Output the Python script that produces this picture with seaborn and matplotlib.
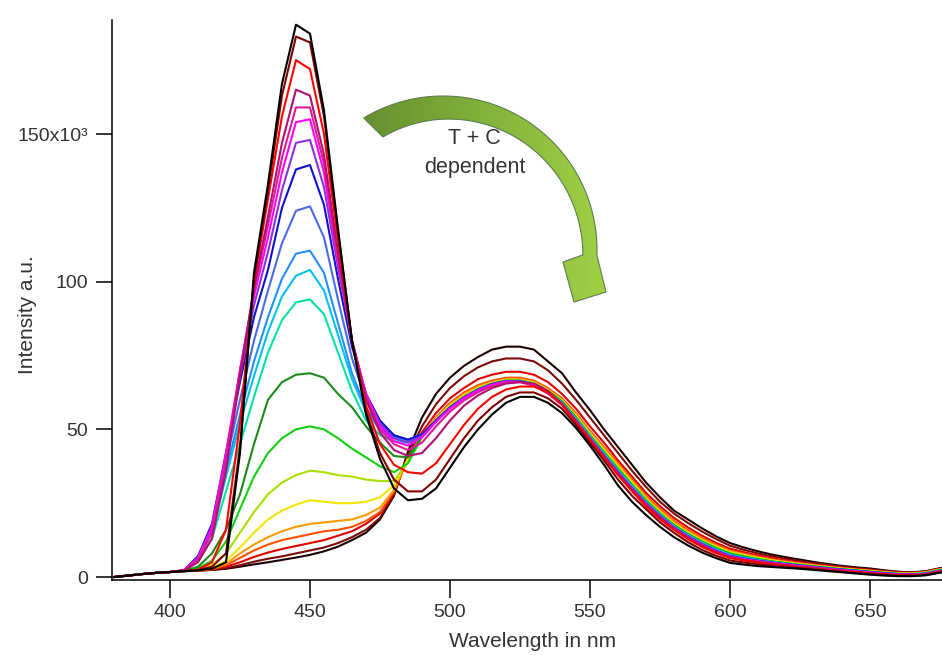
import numpy as np
import pandas as pd
import matplotlib
matplotlib.use("Agg")
import matplotlib.pyplot as plt
import seaborn as sns
from matplotlib.patches import Polygon
from matplotlib.colors import LinearSegmentedColormap

# Emission spectra, intensity in units of 10^3 counts, sampled every 5 nm (380-680 nm)
wavelength_nm = list(range(380, 685, 5))

black_low = [0.0, 0.5, 1.0, 1.4, 1.7,
             2.0, 2.2, 2.4, 2.8, 3.5, 4.3, 5.0, 5.8, 6.6, 7.5, 8.7, 10.3, 12.5, 15.0, 19.5, 27.5,
             42.5, 54.0, 62.0, 67.5, 71.5, 74.5, 77.0, 78.0, 78.0, 77.0, 73.0, 69.0, 62.5, 56.5, 50.0,
             44.0, 38.0, 32.0, 27.0, 22.5, 19.5, 16.5, 13.8,
             11.5, 10.0, 8.7, 7.6, 6.7, 5.9, 5.1, 4.4, 3.8, 3.3, 2.9, 2.3, 1.8, 1.6, 2.0, 3.0, 3.5]
maroon_low = [0.0, 0.5, 1.0, 1.4, 1.7,
              2.0, 2.2, 2.5, 3.0, 4.0, 5.2, 6.2, 7.0, 8.0, 9.0, 10.0, 11.5, 13.5, 16.0, 20.0, 28.0,
              41.5, 51.0, 58.5, 64.0, 68.0, 71.0, 73.0, 74.0, 74.0, 73.0, 70.0, 65.5, 60.0, 54.0, 48.0,
              42.0, 36.0, 30.5, 25.5, 21.5, 18.3, 15.4, 12.9,
              10.6, 9.2, 8.0, 7.0, 6.2, 5.4, 4.7, 4.1, 3.5, 3.0, 2.6, 2.1, 1.7, 1.5, 1.9, 2.9, 3.4]
red_low = [0.0, 0.5, 1.0, 1.4, 1.7,
           2.0, 2.2, 2.6, 3.5, 5.0, 6.8, 8.3, 9.5, 10.5, 11.5, 12.5, 14.0, 15.5, 18.0, 21.5, 28.5,
           40.5, 49.0, 55.5, 60.5, 64.0, 67.0, 68.5, 69.5, 69.5, 68.5, 66.0, 62.0, 57.0, 51.0, 45.5,
           39.5, 34.0, 28.5, 24.0, 20.0, 16.8, 14.0, 11.6,
           9.6, 8.4, 7.3, 6.4, 5.6, 4.9, 4.3, 3.7, 3.2, 2.7, 2.3, 1.9, 1.5, 1.4, 1.8, 2.8, 3.3]
orangered_low = [0.0, 0.5, 1.0, 1.4, 1.7,
                 2.0, 2.3, 2.7, 4.0, 6.5, 9.0, 11.0, 12.5, 13.5, 14.5, 15.5, 16.0, 17.0, 19.0, 22.0, 29.0,
                 40.0, 48.0, 54.0, 59.0, 62.5, 65.0, 66.5, 67.5, 67.5, 66.5, 64.0, 60.5, 55.5, 49.5, 44.0,
                 38.5, 33.0, 27.5, 23.0, 19.0, 15.9, 13.2, 10.9,
                 9.0, 7.9, 6.9, 6.0, 5.3, 4.7, 4.1, 3.5, 3.0, 2.6, 2.2, 1.8, 1.4, 1.3, 1.7, 2.7, 3.2]
orange = [0.0, 0.5, 1.0, 1.4, 1.7,
          2.0, 2.3, 2.8, 4.5, 8.0, 11.0, 13.5, 15.5, 17.0, 18.0, 18.5, 19.0, 19.5, 21.0, 23.5, 29.5,
          40.0, 48.0, 53.5, 58.5, 62.0, 64.5, 66.0, 67.0, 67.0, 66.0, 63.5, 60.0, 55.0, 49.0, 43.5,
          38.0, 32.5, 27.0, 22.5, 18.5, 15.4, 12.8, 10.6,
          8.7, 7.6, 6.6, 5.8, 5.1, 4.5, 3.9, 3.4, 2.9, 2.5, 2.1, 1.7, 1.3, 1.2, 1.6, 2.6, 3.1]
yellow = [0.0, 0.5, 1.0, 1.4, 1.7,
          2.0, 2.4, 3.0, 5.5, 10.0, 15.0, 19.5, 22.5, 24.5, 26.0, 25.5, 25.0, 25.0, 25.5, 27.0, 31.0,
          40.0, 48.0, 53.5, 58.0, 61.5, 64.0, 65.8, 66.8, 66.8, 65.8, 63.3, 59.8, 54.5, 48.5, 43.0,
          37.5, 32.0, 26.5, 22.0, 18.0, 15.0, 12.4, 10.2,
          8.4, 7.4, 6.4, 5.6, 4.9, 4.3, 3.8, 3.3, 2.8, 2.4, 2.0, 1.6, 1.2, 1.1, 1.5, 2.5, 3.0]
yellowgreen = [0.0, 0.5, 1.0, 1.4, 1.7,
               2.0, 2.5, 4.0, 8.0, 15.0, 22.0, 28.0, 32.0, 34.5, 36.0, 35.5, 34.5, 34.0, 33.0, 32.5, 32.5,
               39.0, 47.5, 53.0, 57.5, 61.0, 63.8, 65.6, 66.6, 66.6, 65.6, 63.2, 59.6, 54.2, 48.2, 42.6,
               37.0, 31.6, 26.2, 21.7, 17.8, 14.8, 12.2, 10.0,
               8.2, 7.2, 6.2, 5.4, 4.8, 4.2, 3.7, 3.2, 2.7, 2.3, 1.9, 1.5, 1.1, 1.0, 1.4, 2.4, 2.9]
green = [0.0, 0.5, 1.0, 1.4, 1.7,
         2.0, 3.0, 5.5, 12.0, 23.0, 34.0, 42.0, 47.0, 50.0, 51.0, 50.0, 47.0, 43.5, 40.5, 37.5, 35.5,
         38.5, 47.5, 53.0, 57.5, 61.0, 63.6, 65.5, 66.5, 66.5, 65.5, 63.0, 59.5, 54.0, 48.0, 42.3,
         36.7, 31.3, 26.0, 21.5, 17.6, 14.6, 12.0, 9.8,
         8.0, 7.0, 6.1, 5.3, 4.7, 4.1, 3.6, 3.1, 2.6, 2.2, 1.8, 1.4, 1.1, 1.0, 1.4, 2.4, 2.9]
darkgreen = [0.0, 0.5, 1.0, 1.4, 1.7,
             2.1, 3.5, 8.0, 16.0, 28.0, 45.0, 60.0, 66.0, 68.5, 69.0, 67.5, 62.0, 57.5, 51.0, 45.5, 41.0,
             40.5, 47.5, 53.0, 57.5, 61.0, 63.5, 65.4, 66.4, 66.4, 65.4, 62.8, 59.3, 53.8, 47.8, 42.0,
             36.4, 31.0, 25.7, 21.3, 17.4, 14.4, 11.8, 9.6,
             7.8, 6.8, 5.9, 5.2, 4.6, 4.0, 3.5, 3.0, 2.6, 2.2, 1.8, 1.4, 1.0, 0.9, 1.3, 2.3, 2.8]
turquoise = [0.0, 0.5, 1.0, 1.4, 1.7,
             2.2, 5.5, 13.0, 29.0, 45.0, 61.0, 76.0, 87.0, 93.0, 94.0, 89.0, 76.0, 63.0, 53.0, 48.0, 46.0,
             45.5, 47.8, 52.8, 57.3, 60.8, 63.4, 65.3, 66.3, 66.3, 65.3, 62.7, 59.1, 53.6, 47.6, 41.8,
             36.2, 30.8, 25.5, 21.1, 17.2, 14.2, 11.6, 9.4,
             7.6, 6.6, 5.8, 5.1, 4.5, 3.9, 3.4, 2.9, 2.5, 2.1, 1.7, 1.3, 1.0, 0.9, 1.3, 2.3, 2.8]
deepskyblue = [0.0, 0.5, 1.0, 1.4, 1.7,
               2.2, 6.0, 15.0, 34.0, 52.0, 68.0, 83.0, 95.0, 102.0, 104.0, 97.0, 82.0, 67.0, 56.0, 50.0, 47.0,
               46.0, 48.0, 52.8, 57.3, 60.8, 63.4, 65.3, 66.3, 66.3, 65.3, 62.6, 59.0, 53.4, 47.4, 41.6,
               36.0, 30.6, 25.3, 21.0, 17.1, 14.1, 11.5, 9.3,
               7.5, 6.5, 5.7, 5.0, 4.4, 3.9, 3.4, 2.9, 2.5, 2.1, 1.7, 1.3, 1.0, 0.9, 1.2, 2.2, 2.7]
dodgerblue = [0.0, 0.5, 1.0, 1.4, 1.7,
              2.2, 6.5, 16.0, 36.0, 55.0, 73.0, 88.0, 101.0, 109.5, 110.5, 103.0, 86.0, 69.0, 57.0, 51.0, 47.5,
              46.5, 48.2, 53.0, 57.4, 60.8, 63.4, 65.3, 66.3, 66.3, 65.2, 62.5, 58.8, 53.2, 47.2, 41.4,
              35.8, 30.4, 25.1, 20.8, 16.9, 13.9, 11.3, 9.1,
              7.3, 6.4, 5.6, 4.9, 4.3, 3.8, 3.3, 2.8, 2.4, 2.0, 1.6, 1.2, 0.9, 0.8, 1.2, 2.2, 2.7]
royalblue = [0.0, 0.5, 1.0, 1.4, 1.7,
             2.3, 7.0, 17.0, 39.0, 60.0, 80.0, 97.0, 113.0, 124.0, 125.5, 115.0, 94.0, 74.0, 60.0, 52.0, 48.0,
             46.5, 48.3, 53.0, 57.4, 60.8, 63.4, 65.3, 66.3, 66.3, 65.2, 62.5, 58.7, 53.0, 47.0, 41.2,
             35.6, 30.2, 25.0, 20.7, 16.8, 13.8, 11.2, 9.0,
             7.2, 6.3, 5.5, 4.9, 4.3, 3.8, 3.3, 2.8, 2.4, 2.0, 1.6, 1.2, 0.9, 0.8, 1.1, 2.1, 2.6]
blue = [0.0, 0.5, 1.0, 1.4, 1.7,
        2.3, 7.0, 18.0, 42.0, 66.0, 88.0, 104.0, 125.0, 138.0, 139.5, 126.0, 101.0, 78.0, 62.0, 53.0, 48.0,
        46.5, 48.3, 53.0, 57.4, 60.8, 63.4, 65.3, 66.3, 66.3, 65.1, 62.4, 58.6, 52.9, 46.9, 41.0,
        35.4, 30.0, 24.8, 20.5, 16.7, 13.7, 11.1, 8.9,
        7.1, 6.2, 5.5, 4.9, 4.4, 3.9, 3.4, 2.9, 2.5, 2.1, 1.7, 1.3, 1.0, 0.9, 1.1, 2.1, 2.6]
purple = [0.0, 0.5, 1.0, 1.4, 1.7,
          2.3, 6.5, 17.0, 41.0, 68.0, 92.0, 110.0, 131.0, 147.0, 148.0, 132.0, 105.0, 80.0, 62.0, 52.0, 47.0,
          45.5, 47.8, 52.7, 57.2, 60.7, 63.3, 65.2, 66.2, 66.2, 65.0, 62.3, 58.5, 52.8, 46.8, 40.9,
          35.3, 29.9, 24.7, 20.4, 16.6, 13.6, 11.0, 8.8,
          7.0, 6.1, 5.4, 4.8, 4.3, 3.8, 3.3, 2.8, 2.4, 2.0, 1.6, 1.2, 0.9, 0.8, 1.1, 2.1, 2.6]
magenta = [0.0, 0.5, 1.0, 1.4, 1.7,
           2.3, 6.5, 17.0, 42.0, 70.0, 95.0, 115.0, 137.0, 154.0, 155.0, 137.0, 107.0, 80.0, 62.0, 51.0, 46.0,
           44.5, 47.3, 52.5, 57.0, 60.6, 63.2, 65.1, 66.1, 66.1, 64.9, 62.2, 58.4, 52.7, 46.7, 40.8,
           35.2, 29.8, 24.6, 20.3, 16.5, 13.5, 10.9, 8.7,
           6.9, 6.0, 5.3, 4.7, 4.2, 3.7, 3.2, 2.7, 2.3, 1.9, 1.5, 1.1, 0.8, 0.7, 1.0, 2.0, 2.5]
deeppink = [0.0, 0.5, 1.0, 1.4, 1.7,
            2.3, 6.0, 15.0, 40.0, 70.0, 97.0, 119.0, 142.0, 159.0, 159.0, 140.0, 108.0, 80.0, 61.0, 50.0, 45.0,
            43.0, 45.5, 51.0, 56.0, 59.8, 62.6, 64.7, 65.8, 66.0, 64.8, 62.1, 58.3, 52.6, 46.6, 40.7,
            35.1, 29.7, 24.5, 20.2, 16.4, 13.4, 10.8, 8.6,
            6.8, 5.9, 5.2, 4.6, 4.1, 3.6, 3.1, 2.6, 2.2, 1.8, 1.4, 1.0, 0.8, 0.7, 1.0, 2.0, 2.5]
violetred = [0.0, 0.5, 1.0, 1.4, 1.7,
             2.2, 5.0, 13.0, 36.0, 68.0, 98.0, 122.0, 147.0, 165.0, 163.0, 143.0, 110.0, 80.0, 60.0, 49.0, 43.0,
             41.0, 42.0, 47.0, 53.0, 58.0, 61.5, 64.0, 65.5, 66.0, 65.5, 63.0, 58.5, 52.5, 46.5, 40.6,
             35.0, 29.6, 24.4, 20.1, 16.3, 13.3, 10.7, 8.5,
             6.7, 5.8, 5.1, 4.5, 4.0, 3.5, 3.0, 2.5, 2.1, 1.7, 1.3, 1.0, 0.7, 0.6, 0.9, 1.9, 2.4]
red_high = [0.0, 0.5, 1.0, 1.4, 1.7,
            2.0, 2.5, 5.0, 16.0, 52.0, 100.0, 128.0, 156.0, 175.0, 172.0, 150.0, 114.0, 80.0, 58.0, 45.0, 38.0,
            35.5, 35.0, 38.5, 45.0, 51.5, 57.0, 61.0, 63.5, 64.5, 64.5, 62.5, 58.5, 52.5, 46.5, 40.5,
            34.5, 29.0, 24.0, 19.5, 16.0, 12.8, 10.2, 8.1,
            6.4, 5.6, 4.9, 4.3, 3.8, 3.3, 2.8, 2.4, 2.0, 1.6, 1.2, 0.9, 0.6, 0.5, 0.8, 1.8, 2.3]
maroon_high = [0.0, 0.5, 1.0, 1.4, 1.7,
               2.0, 2.3, 3.5, 8.0, 44.0, 101.0, 131.0, 163.0, 183.0, 181.0, 156.0, 117.0, 80.0, 56.0, 42.0, 33.0,
               29.0, 29.0, 33.0, 40.0, 47.0, 53.0, 57.5, 61.0, 62.5, 62.5, 60.5, 57.0, 51.5, 45.5, 39.5,
               33.0, 27.5, 23.0, 18.5, 15.0, 11.8, 9.2, 7.2,
               5.6, 4.9, 4.3, 3.8, 3.4, 3.0, 2.6, 2.2, 1.8, 1.4, 1.0, 0.7, 0.5, 0.4, 0.7, 1.6, 2.1]
black_high = [0.0, 0.5, 1.0, 1.4, 1.7,
              2.0, 2.3, 2.8, 5.0, 42.0, 103.0, 133.0, 167.0, 187.0, 184.0, 158.0, 118.0, 80.0, 55.0, 40.0, 30.0,
              26.0, 26.5, 30.0, 37.0, 44.0, 50.0, 55.0, 59.0, 61.0, 61.0, 59.0, 55.5, 50.5, 44.5, 38.0,
              31.0, 25.5, 21.0, 17.0, 13.5, 10.7, 8.3, 6.4,
              4.8, 4.2, 3.7, 3.4, 3.1, 2.8, 2.4, 2.0, 1.6, 1.2, 0.8, 0.5, 0.3, 0.3, 0.6, 1.5, 2.0]

series_names = ["black_low", "maroon_low", "red_low", "orangered_low", "orange", "yellow",
                "yellowgreen", "green", "darkgreen", "turquoise", "deepskyblue", "dodgerblue",
                "royalblue", "blue", "purple", "magenta", "deeppink", "violetred",
                "red_high", "maroon_high", "black_high"]
series_values = [black_low, maroon_low, red_low, orangered_low, orange, yellow,
                 yellowgreen, green, darkgreen, turquoise, deepskyblue, dodgerblue,
                 royalblue, blue, purple, magenta, deeppink, violetred,
                 red_high, maroon_high, black_high]
series_colors = ["#1a0000", "#7a0a0a", "#e00000", "#ff5000", "#ff9a00", "#f5e600",
                 "#a8e000", "#10d010", "#1a8a1a", "#00e0a8", "#00c0f0", "#2090ff",
                 "#4a6ae8", "#1010d0", "#8a30e0", "#ff00ff", "#e0189a", "#b01070",
                 "#ff0000", "#800000", "#000000"]

x_ticks = [400, 450, 500, 550, 600, 650]
y_ticks = [0, 50, 100, 150]
y_tick_labels = ["0", "50", "100", "150x10\u00b3"]

frames = []
for name, vals in zip(series_names, series_values):
    frames.append(pd.DataFrame({"wavelength": wavelength_nm, "intensity": vals, "series": name}))
df = pd.concat(frames, ignore_index=True)

sns.set_theme(style="ticks")
plt.rcParams["font.family"] = ["Liberation Sans", "DejaVu Sans"]

W, H = 942, 655
fig = plt.figure(figsize=(W / 100, H / 100), dpi=100)
fig.patch.set_facecolor("white")
ax = fig.add_axes([112 / W, 1 - 580 / H, 830 / W, 560 / H])
ax.set_facecolor("white")

sns.lineplot(data=df, x="wavelength", y="intensity", hue="series",
             hue_order=series_names, palette=dict(zip(series_names, series_colors)),
             estimator=None, sort=False, legend=False, linewidth=1.5, ax=ax)

ax.set_xlim(379.3, 675.7)
ax.set_ylim(-1.0, 188.6)
ax.set_xticks(x_ticks)
ax.set_xticklabels([str(v) for v in x_ticks])
ax.set_yticks(y_ticks)
ax.set_yticklabels(y_tick_labels)
sns.despine(ax=ax)
for side in ("left", "bottom"):
    ax.spines[side].set_linewidth(1.1)
    ax.spines[side].set_color("black")
ax.tick_params(axis="x", length=13, width=1.1, direction="out", pad=4,
               labelsize=14, labelcolor="#333333", color="black")
ax.tick_params(axis="y", length=11.5, width=1.1, direction="out", pad=5.5,
               labelsize=14, labelcolor="#333333", color="black")

ax.set_xlabel("Wavelength in nm", fontsize=15, color="#333333")
ax.set_ylabel("Intensity a.u.", fontsize=15, color="#333333")
ax.xaxis.set_label_coords((533 - 112) / 830, -(632 - 580) / 560)
ax.yaxis.set_label_coords((37 - 112) / 830, (580 - 315) / 560)

# Curved annotation arrow drawn in pixel space on a transparent overlay
ov = fig.add_axes([0, 0, 1, 1])
ov.axis("off")
cx, cy, r_out = 443.0, 250.0, 154.0
th_o = np.radians(np.linspace(121, -2, 80))
th_i = np.radians(np.linspace(118, -2, 80))
thick = 14 + 12 * (np.degrees(th_i) + 2) / 120
outer = np.column_stack([cx + r_out * np.cos(th_o), cy - r_out * np.sin(th_o)])
inner = np.column_stack([cx + (r_out - thick) * np.cos(th_i), cy - (r_out - thick) * np.sin(th_i)])
head = np.array([[606.0, 292.0], [574.0, 302.0], [563.0, 262.0]])
outline = np.vstack([outer, head, inner[::-1]])

arrow_cmap = LinearSegmentedColormap.from_list("arrow", ["#668f30", "#82b23a", "#a4d246"])
grad = np.linspace(0, 1, 256).reshape(1, -1)
im = ov.imshow(grad, extent=(360, 612, 305, 88), cmap=arrow_cmap, aspect="auto",
               interpolation="bilinear", zorder=2)
patch = Polygon(outline, closed=True, facecolor="none", edgecolor="#5b7d4c",
                linewidth=0.8, zorder=3)
ov.add_patch(patch)
im.set_clip_path(patch)
ov.set_xlim(0, W)
ov.set_ylim(H, 0)

ov.text(474, 138, "T + C", ha="center", va="center", fontsize=15.5, color="#333333")
ov.text(475, 167, "dependent", ha="center", va="center", fontsize=15.5, color="#333333")

fig.savefig("out.png", dpi=100)
